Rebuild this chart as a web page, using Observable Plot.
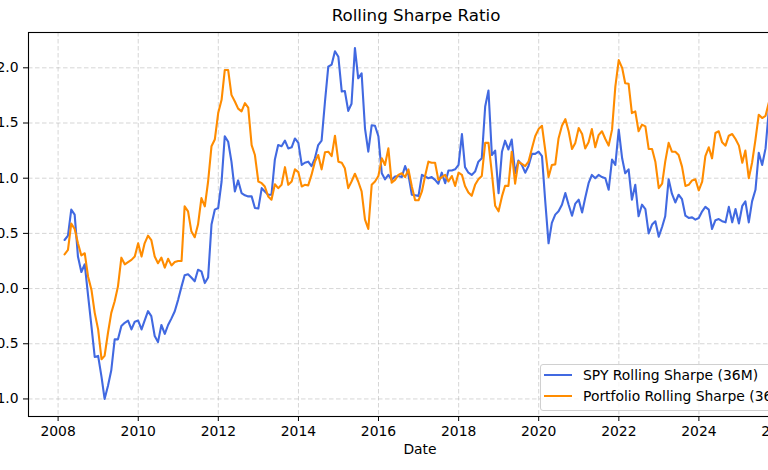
<!DOCTYPE html>
<html><head><meta charset="utf-8">
<script src="https://cdn.jsdelivr.net/npm/d3@7"></script>
<script src="https://cdn.jsdelivr.net/npm/@observablehq/plot@0.6"></script>
<style>
html,body{margin:0;padding:0;background:#fff;}
body{width:768px;height:470px;overflow:hidden;position:relative;font-family:"DejaVu Sans",sans-serif;color:#000;}
#title{position:absolute;top:5px;left:416px;transform:translateX(-50%);font-size:16.7px;white-space:nowrap;}
#chart{position:absolute;top:30px;left:-22px;width:840px;height:440px;}
#chart svg{max-width:none !important;width:840px;height:440px;}
#legend{position:absolute;left:540px;top:364px;width:280px;height:45px;border:1px solid #d0d0d0;border-radius:3px;background:rgba(255,255,255,0.8);font-size:13.9px;}
.row{position:absolute;left:3px;height:20px;display:flex;align-items:center;white-space:nowrap;}
.sw{width:28px;height:2px;margin-right:11px;}
</style>
</head><body>
<div id="title">Rolling Sharpe Ratio</div>
<div id="chart"></div>
<div id="legend"></div>
<script>
// Series labels
const seriesNames = ["SPY Rolling Sharpe (36M)", "Portfolio Rolling Sharpe (36M)"];
const seriesColors = ["#4169E1", "#FF8C00"];
// Monthly observations (month-end), first and last month
const firstMonth = "2008-02";
const lastMonth = "2025-09";
// SPY rolling 36M Sharpe
const spy = [
 0.44, 0.48, 0.715, 0.67, 0.29, 0.15, 0.22, -0.06, -0.34, -0.62, -0.61, -0.80,
 -1.0, -0.88, -0.74, -0.46, -0.46, -0.34, -0.31, -0.29, -0.37, -0.30, -0.29, -0.37,
 -0.29, -0.205, -0.25, -0.43, -0.485, -0.33, -0.41, -0.33, -0.27, -0.205, -0.10, 0.02,
 0.12, 0.13, 0.10, 0.066, 0.17, 0.156, 0.05, 0.10, 0.58, 0.715, 0.73, 0.97,
 1.38, 1.33, 1.15, 0.88, 0.98, 0.865, 0.845, 0.835, 0.835, 0.73, 0.725, 0.91,
 0.88, 0.85, 0.85, 1.17, 1.30, 1.29, 1.34, 1.27, 1.28, 1.36, 1.32, 1.12,
 1.14, 1.15, 1.11, 1.18, 1.30, 1.34, 1.695, 2.01, 2.03, 2.15, 2.10, 1.785,
 1.79, 1.61, 1.675, 2.18, 1.905, 1.95, 1.45, 1.24, 1.48, 1.475, 1.38, 1.045,
 0.99, 1.03, 0.985, 1.015, 1.02, 1.01, 1.11, 1.03, 0.85, 0.845, 0.84, 1.03,
 1.015, 1.0, 1.01, 0.985, 0.95, 1.05, 0.955, 1.07, 1.07, 1.08, 1.12, 1.40,
 1.10, 1.05, 1.03, 1.06, 1.15, 1.18, 1.65, 1.795, 1.21, 1.25, 0.865, 1.24,
 1.34, 1.26, 1.35, 1.045, 1.16, 1.12, 1.05, 1.11, 1.22, 1.22, 1.24, 1.20,
 0.80, 0.41, 0.595, 0.67, 0.70, 0.76, 0.865, 0.76, 0.66, 0.77, 0.805, 0.69,
 0.82, 0.955, 1.03, 1.0, 1.03, 1.01, 1.0, 0.895, 1.17, 1.12, 1.44, 1.18,
 1.045, 1.08, 0.805, 0.94, 0.655, 0.76, 0.72, 0.50, 0.58, 0.61, 0.47, 0.56,
 0.655, 0.99, 0.86, 0.78, 0.85, 0.81, 0.66, 0.64, 0.645, 0.625, 0.64, 0.70,
 0.74, 0.715, 0.54, 0.62, 0.63, 0.61, 0.60, 0.74, 0.60, 0.72, 0.59, 0.75,
 0.79, 0.60, 0.79, 0.895, 1.23, 1.12, 1.27, 1.62
];
// Portfolio rolling 36M Sharpe
const portfolio = [
 0.31, 0.35, 0.59, 0.54, 0.41, 0.30, 0.32, 0.11, -0.01, -0.22, -0.37, -0.64,
 -0.61, -0.40, -0.22, -0.115, 0.02, 0.28, 0.22, 0.24, 0.26, 0.29, 0.41, 0.29,
 0.41, 0.48, 0.44, 0.29, 0.23, 0.28, 0.19, 0.27, 0.21, 0.24, 0.25, 0.25,
 0.745, 0.70, 0.52, 0.465, 0.58, 0.82, 0.745, 0.97, 1.29, 1.35, 1.59, 1.71,
 1.98, 1.98, 1.755, 1.695, 1.63, 1.605, 1.68, 1.64, 1.30, 1.21, 0.97, 0.955,
 0.925, 0.835, 0.805, 0.945, 0.91, 0.94, 1.10, 0.94, 0.97, 1.08, 1.055, 0.925,
 0.94, 0.935, 1.03, 1.15, 1.21, 1.08, 1.235, 1.24, 1.20, 1.385, 1.15, 1.14,
 1.09, 0.91, 0.97, 1.04, 0.97, 0.88, 0.625, 0.54, 0.94, 0.97, 1.02, 1.18,
 1.12, 1.27, 0.96, 0.985, 1.03, 1.045, 1.01, 1.08, 0.925, 0.80, 0.80, 0.88,
 1.015, 1.15, 1.14, 1.14, 0.985, 1.01, 1.03, 0.97, 1.02, 0.93, 1.05, 1.03,
 0.93, 0.87, 0.84, 0.94, 0.99, 1.02, 1.32, 1.32, 1.045, 0.75, 0.70, 0.835,
 0.93, 0.93, 1.24, 0.95, 1.15, 1.13, 1.11, 1.15, 1.27, 1.38, 1.445, 1.475,
 1.26, 1.01, 1.12, 1.125, 1.36, 1.475, 1.535, 1.425, 1.265, 1.32, 1.455, 1.40,
 1.27, 1.325, 1.445, 1.28, 1.39, 1.425, 1.355, 1.295, 1.44, 1.83, 2.07, 2.0,
 1.86, 1.855, 1.59, 1.605, 1.425, 1.485, 1.47, 1.265, 1.265, 1.15, 0.91, 0.95,
 1.15, 1.32, 1.24, 1.24, 1.21, 1.105, 0.93, 0.94, 0.98, 0.99, 0.89, 0.97,
 1.20, 1.28, 1.18, 1.41, 1.425, 1.325, 1.295, 1.385, 1.40, 1.355, 1.295, 1.14,
 1.25, 1.0, 1.14, 1.35, 1.575, 1.545, 1.565, 1.685
];
// Axis ticks
const xTickYears = [2008, 2010, 2012, 2014, 2016, 2018, 2020, 2022, 2024, 2026];
const yTickValues = [-1.0, -0.5, 0.0, 0.5, 1.0, 1.5, 2.0];
const xLabel = "Date";

// month-end dates
const monthStart = d3.utcParse("%Y-%m")(firstMonth);
const monthStop = d3.utcMonth.offset(d3.utcParse("%Y-%m")(lastMonth), 1);
const dates = d3.utcMonth.range(d3.utcMonth.offset(monthStart, 1), d3.utcMonth.offset(monthStop, 1))
  .map(d => d3.utcDay.offset(d, -1));

const rows = [];
[spy, portfolio].forEach((vals, s) => {
  vals.forEach((v, i) => rows.push({date: dates[i], value: v, series: seriesNames[s]}));
});
const xTicks = xTickYears.map(y => new Date(Date.UTC(y, 0, 1)));

const gridStyle = {stroke: "#b0b0b0", strokeOpacity: 0.65, strokeWidth: 0.8, strokeDasharray: "4.5,2.5"};

const chart = Plot.plot({
  width: 840, height: 440,
  marginLeft: 50, marginRight: 7, marginTop: 2, marginBottom: 54,
  style: {fontFamily: "DejaVu Sans", fontSize: "13.9px", background: "transparent", overflow: "visible", color: "#000", maxWidth: "none"},
  x: {type: "utc", domain: [new Date(Date.UTC(2007, 3, 6)), new Date(Date.UTC(2026, 9, 24))]},
  y: {domain: [-1.159, 2.320]},
  color: {domain: seriesNames, range: seriesColors},
  marks: [
    Plot.gridX(xTicks, gridStyle),
    Plot.gridY(yTickValues, gridStyle),
    Plot.line(rows, {x: "date", y: "value", z: "series", stroke: "series", strokeWidth: 2.1, strokeLinejoin: "round"}),
    Plot.frame({stroke: "#000", strokeWidth: 1.1}),
    Plot.axisX(xTicks, {tickSize: 5, tickPadding: 5, tickFormat: d => String(d.getUTCFullYear()), label: null}),
    Plot.axisY(yTickValues, {tickSize: 5, tickPadding: 5, tickFormat: d => (d < 0 ? "\u2212" : "") + Math.abs(d).toFixed(1), label: null}),
    Plot.text([xLabel], {frameAnchor: "bottom", dy: 37, text: d => d, fontSize: 13.9})
  ]
});
document.getElementById("chart").appendChild(chart);

const legend = document.getElementById("legend");
seriesNames.forEach((name, i) => {
  const row = document.createElement("div");
  row.className = "row";
  row.style.top = (i === 0 ? 0 : 21) + "px";
  const sw = document.createElement("div");
  sw.className = "sw";
  sw.style.background = seriesColors[i];
  const tx = document.createElement("span");
  tx.textContent = name;
  row.appendChild(sw); row.appendChild(tx);
  legend.appendChild(row);
});
</script>
</body></html>
